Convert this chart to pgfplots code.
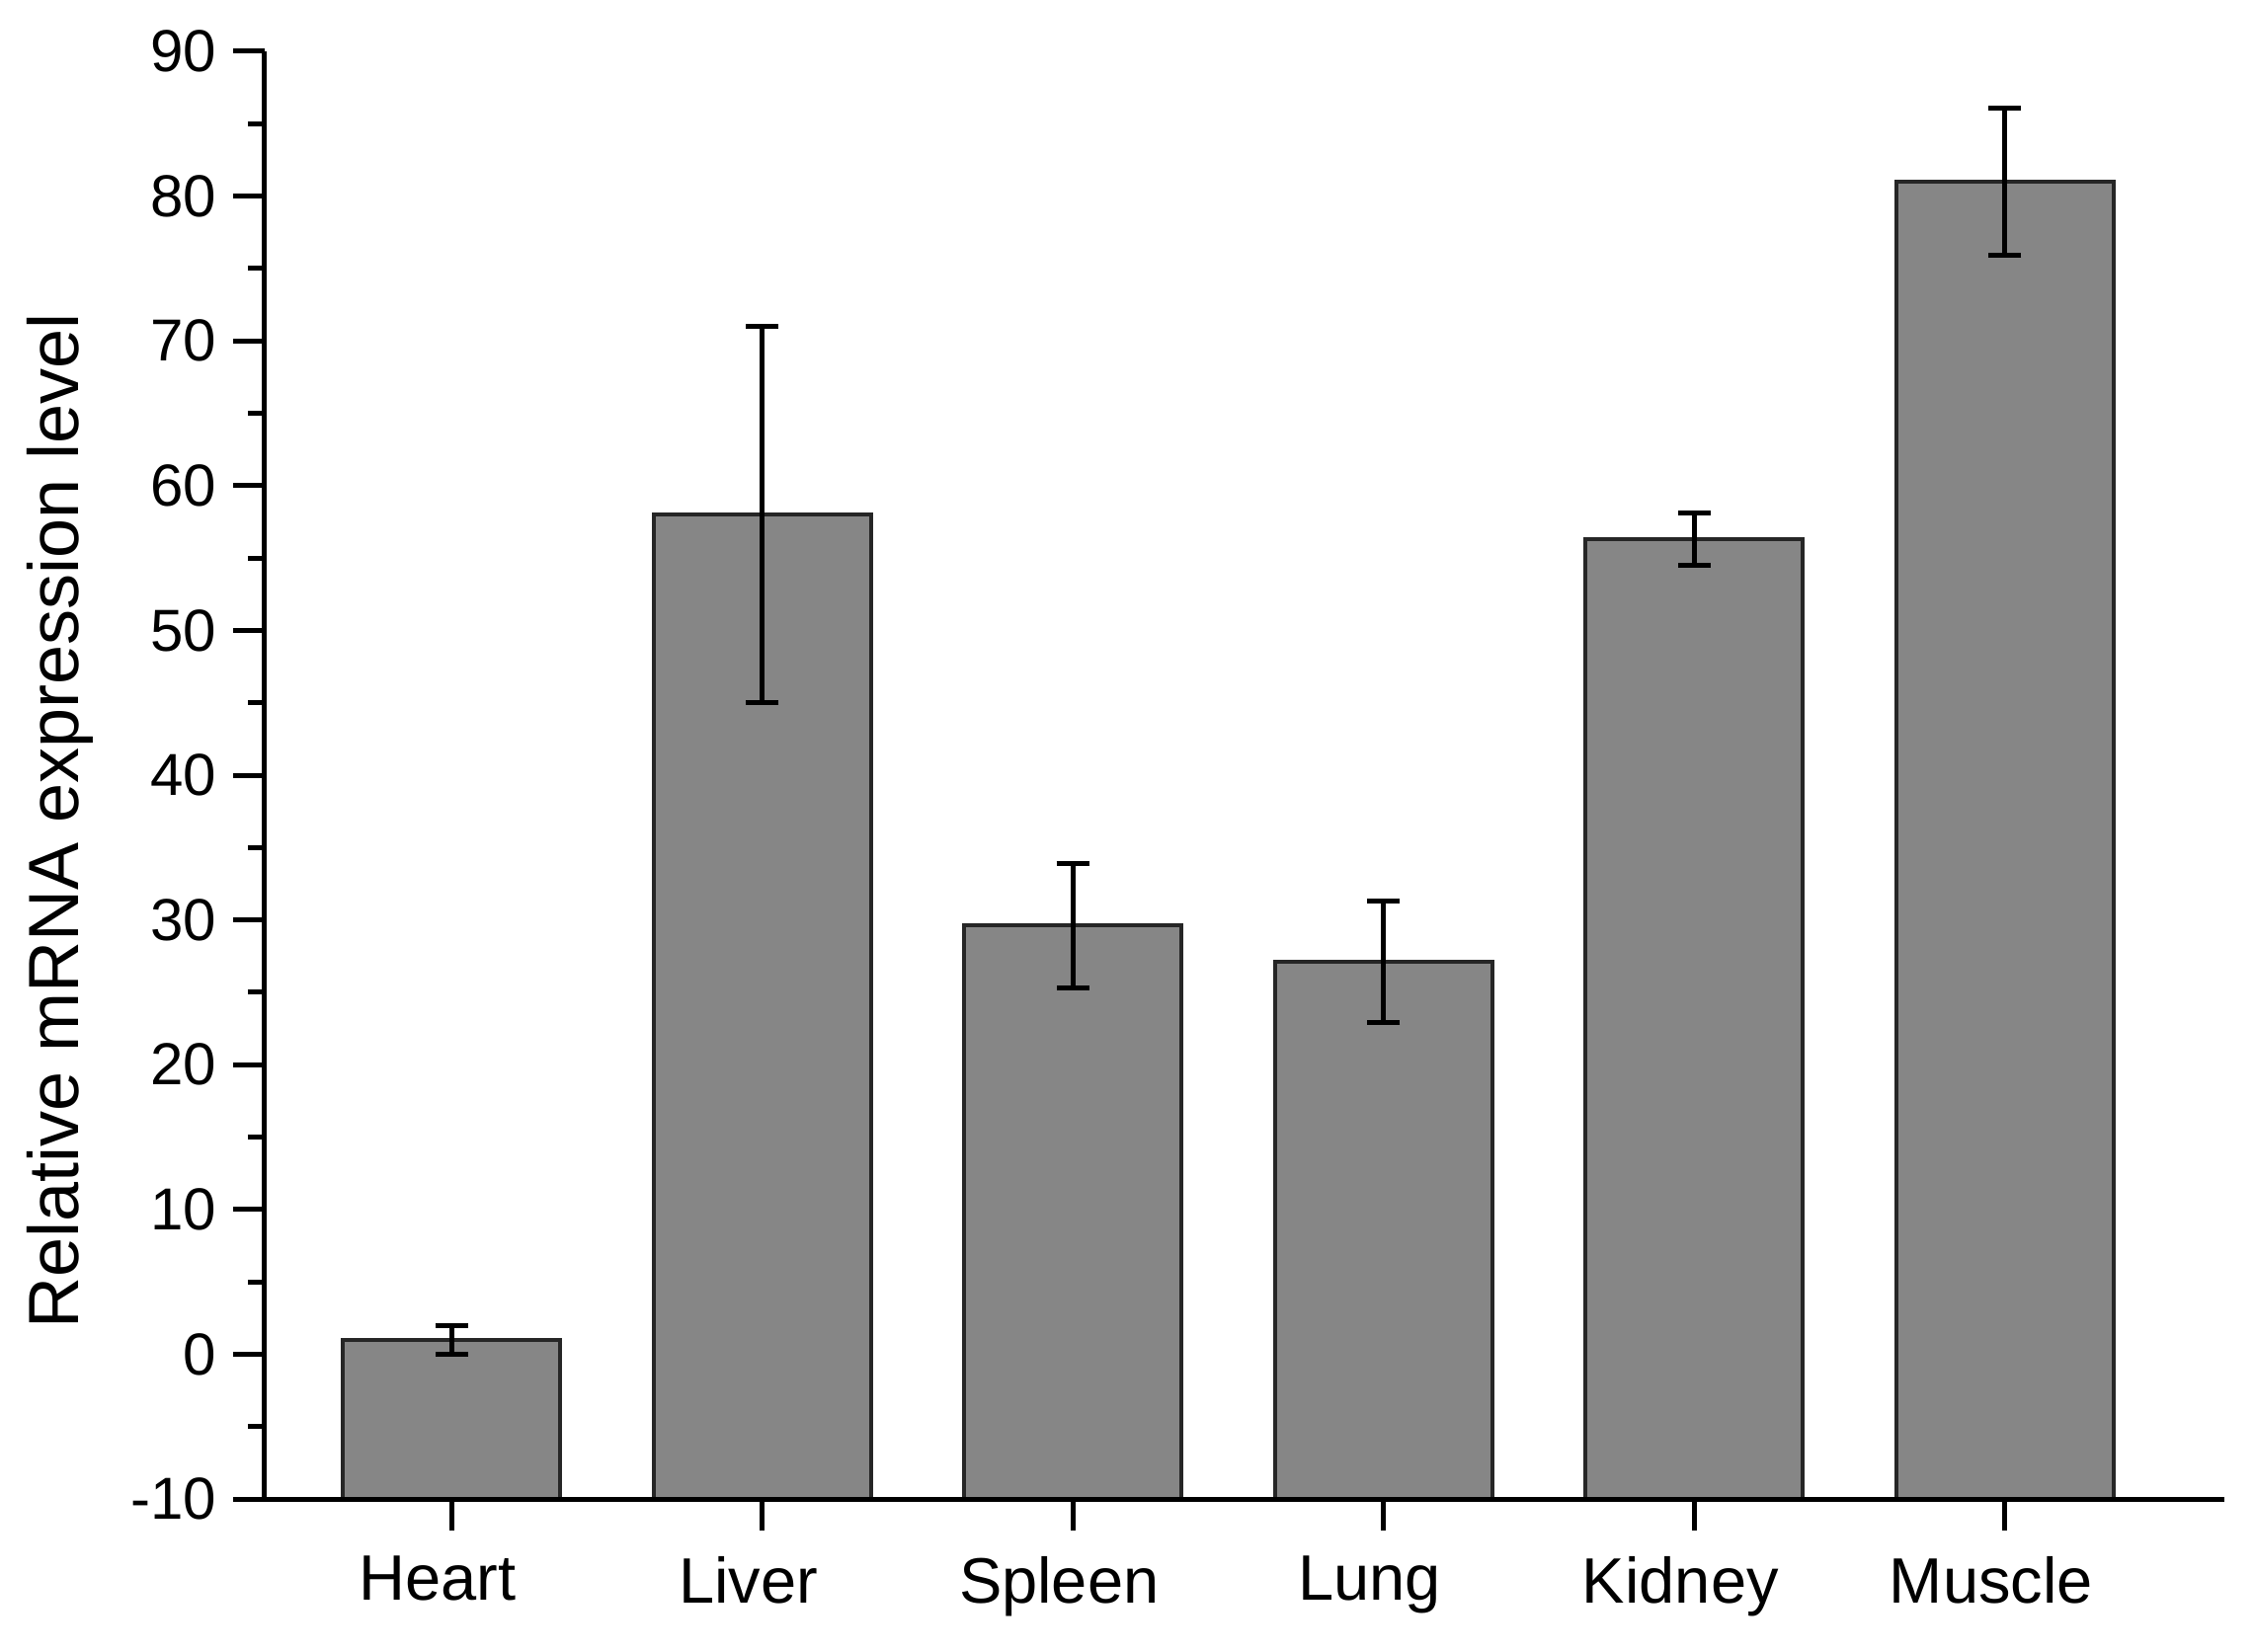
\documentclass[border=0pt]{standalone}
\usepackage{pgfplots}
\pgfplotsset{compat=1.18}
\usepackage{fontspec}
\setmainfont{Liberation Sans}
\definecolor{barfill}{HTML}{868686}
\begin{document}
\begin{tikzpicture}
\useasboundingbox (-53.6pt,-30.8pt) rectangle (402.8pt,303.6pt);
\begin{axis}[
  at={(0,0)}, anchor=south west,
  scale only axis,
  width=396.8pt, height=293.2pt,
  xmin=-0.601, xmax=5.706,
  ymin=-10, ymax=90,
  axis lines=left,
  axis on top,
  axis line style={-, line width=1pt},
  xtick={0,1,2,3,4,5},
  xticklabels={Heart,Liver,Spleen,Lung,Kidney,Muscle},
  ytick={-10,0,...,90},
  minor ytick={-5,5,...,85},
  tick align=outside,
  major tick length=6.3pt,
  minor tick length=3.4pt,
  tick style={line width=1pt, black},
  minor tick style={line width=1pt, black},
  /pgf/number format/assume math mode=true,
  yticklabel style={font=\fontsize{12}{14}\selectfont},
  xticklabel style={font=\fontsize{13}{15}\selectfont, yshift=-1.8pt, xshift=-2.8pt},
  ylabel={Relative mRNA expression level},
  every axis y label/.style={at={(axis description cs:-0.0948,0.4686)}, rotate=90, anchor=base, font=\fontsize{14.4}{16}\selectfont},
  clip=false,
]
\addplot[fill=barfill, draw=black!85, line width=0.8pt] coordinates {(-0.35,-10) (0.35,-10) (0.35,1.0) (-0.35,1.0)} -- cycle;
\addplot[fill=barfill, draw=black!85, line width=0.8pt] coordinates {(0.65,-10) (1.35,-10) (1.35,58.0) (0.65,58.0)} -- cycle;
\addplot[fill=barfill, draw=black!85, line width=0.8pt] coordinates {(1.65,-10) (2.35,-10) (2.35,29.6) (1.65,29.6)} -- cycle;
\addplot[fill=barfill, draw=black!85, line width=0.8pt] coordinates {(2.65,-10) (3.35,-10) (3.35,27.1) (2.65,27.1)} -- cycle;
\addplot[fill=barfill, draw=black!85, line width=0.8pt] coordinates {(3.65,-10) (4.35,-10) (4.35,56.3) (3.65,56.3)} -- cycle;
\addplot[fill=barfill, draw=black!85, line width=0.8pt] coordinates {(4.65,-10) (5.35,-10) (5.35,81.0) (4.65,81.0)} -- cycle;
\addplot[draw=none, mark=none,
  error bars/.cd, y dir=both, y explicit,
  error bar style={line width=1pt, black},
  error mark options={rotate=90, mark size=3.3pt, line width=1pt, black}]
  coordinates {
  (0,1.0) +- (0,1.0)
  (1,58.0) +- (0,13.0)
  (2,29.6) +- (0,4.3)
  (3,27.1) +- (0,4.2)
  (4,56.3) +- (0,1.8)
  (5,81.0) +- (0,5.1)
  };
\end{axis}
\end{tikzpicture}
\end{document}
